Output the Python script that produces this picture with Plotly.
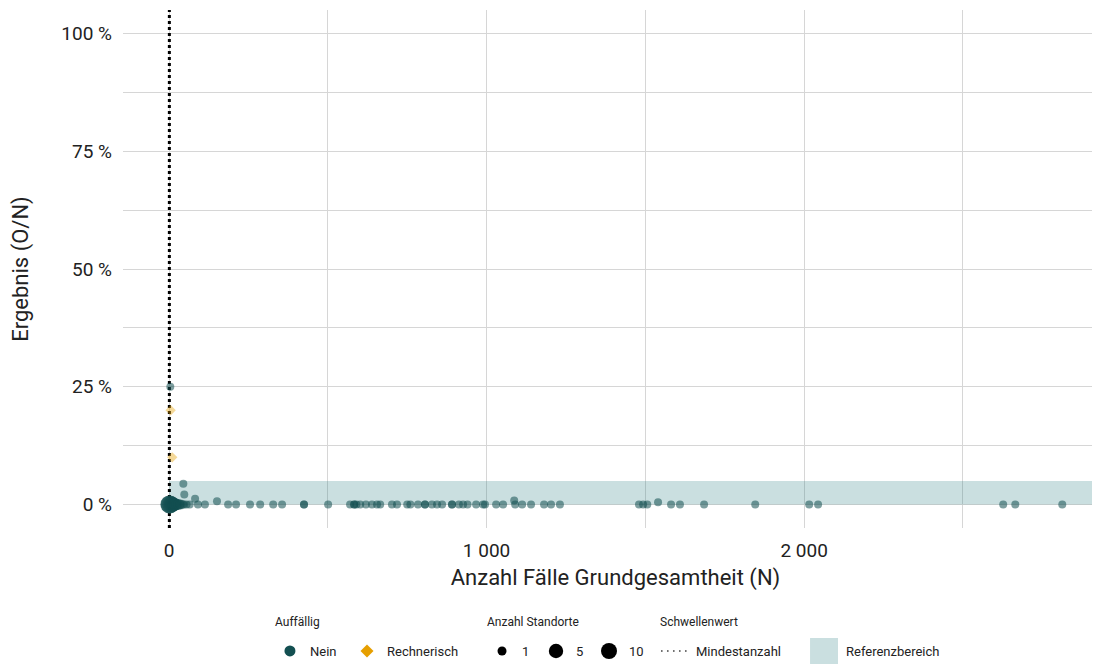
import plotly.graph_objects as go

# ---------------- data ----------------
# Auffällig = Nein
n_nein = [1, 2, 3, 5, 8, 12, 16, 20, 25, 30, 35, 40, 47, 55, 65,
          4, 45, 48, 82, 151,
          91, 113, 186, 211, 255, 287, 328, 356, 425, 425, 501, 570, 583, 583, 590,
          602, 620, 639, 655, 665, 702, 718, 750, 760, 784, 806, 806, 828, 844, 860,
          891, 891, 913, 926, 940, 967, 989, 995, 1030, 1052, 1087, 1090, 1112, 1140,
          1181, 1203, 1231, 1480, 1493, 1506, 1540, 1581, 1609, 1685, 1846, 2016, 2044,
          2627, 2665, 2813]
erg_nein = [0, 0, 0, 0, 0, 0, 0, 0, 0, 0, 0, 0, 0, 0, 0,
            0.25, 0.044, 0.021, 0.012, 0.0066,
            0, 0, 0, 0, 0, 0, 0, 0, 0, 0, 0, 0, 0, 0, 0,
            0, 0, 0, 0, 0, 0, 0, 0, 0, 0, 0, 0, 0, 0, 0,
            0, 0, 0, 0, 0, 0, 0, 0, 0, 0, 0.0083, 0, 0, 0,
            0, 0, 0, 0, 0, 0, 0.0045, 0, 0, 0, 0, 0, 0,
            0, 0, 0]
standorte_nein = [10, 10, 10, 8, 7, 6, 5, 4, 3, 3, 2, 2, 1, 1, 1,
                  1, 1, 1, 1, 1] + [1] * 60

# Auffällig = Rechnerisch
n_rech = [5, 10]
erg_rech = [0.20, 0.10]
standorte_rech = [1, 1]

# legend / threshold / reference
legend_sizes = [1, 5, 10]
mindestanzahl = 1
referenz_oben = 0.05

x_tickvals = [0, 1000, 2000]
x_ticktext = ["0", "1 000", "2 000"]
y_tickvals = [0, 0.25, 0.5, 0.75, 1.0]
y_ticktext = ["0 %", "25 %", "50 %", "75 %", "100 %"]

X_RANGE = [-145, 2957]
Y_RANGE = [-0.05, 1.05]

TEAL = "#134f51"
ORANGE = "#e69f00"
BAND = "rgba(43,127,131,0.25)"
BAND_SOLID = "#cadfe0"
FONT = "Roboto"


def dia(n):
    return (64 + 28.9 * (n - 1)) ** 0.5


fig = go.Figure()

# reference band
fig.add_trace(go.Scatter(
    x=[0, X_RANGE[1], X_RANGE[1], 0, 0],
    y=[0, 0, referenz_oben, referenz_oben, 0],
    fill="toself", mode="lines", line=dict(width=0),
    fillcolor=BAND, showlegend=False, hoverinfo="skip"))

# threshold line
fig.add_trace(go.Scatter(
    x=[mindestanzahl, mindestanzahl], y=Y_RANGE, mode="lines",
    line=dict(color="black", width=3, dash="dot"), showlegend=False))

# data points
fig.add_trace(go.Scatter(
    x=n_nein, y=erg_nein, mode="markers", showlegend=False,
    marker=dict(color=TEAL, opacity=0.55, size=[dia(s) for s in standorte_nein],
                line=dict(width=0))))
fig.add_trace(go.Scatter(
    x=n_rech, y=erg_rech, mode="markers", showlegend=False,
    marker=dict(color=ORANGE, opacity=0.4, symbol="diamond",
                size=[dia(s) for s in standorte_rech], line=dict(width=0))))

# legend entries
fig.add_trace(go.Scatter(x=[None], y=[None], mode="markers", name="Nein",
                         marker=dict(color=TEAL, size=11), legend="legend"))
fig.add_trace(go.Scatter(x=[None], y=[None], mode="markers", name="Rechnerisch",
                         marker=dict(color=ORANGE, size=10, symbol="diamond"),
                         legend="legend2"))
for i, s in enumerate(legend_sizes):
    fig.add_trace(go.Scatter(x=[None], y=[None], mode="markers", name=str(s),
                             marker=dict(color="black", size=min(dia(s) + 1, 16)),
                             legend="legend%d" % (3 + i)))
fig.add_trace(go.Scatter(x=[None], y=[None], mode="lines", name="Mindestanzahl",
                         line=dict(color="#444444", width=1.6, dash="1.6px,4.4px"),
                         legend="legend6"))
fig.add_trace(go.Scatter(x=[None], y=[None], mode="markers", name="Referenzbereich",
                         marker=dict(color="rgba(0,0,0,0)", size=1),
                         legend="legend7"))

grid = "#d6d6d6"
fig.update_layout(
    width=1100, height=664,
    margin=dict(l=115, r=0, t=2, b=144, autoexpand=False),
    plot_bgcolor="white", paper_bgcolor="white",
    font=dict(family=FONT, color="#222222"),
    xaxis=dict(range=X_RANGE, tickvals=x_tickvals, ticktext=x_ticktext,
               showgrid=True, gridcolor=grid, gridwidth=1, zeroline=False,
               showline=False, ticks="", tickfont=dict(size=19),
               ticklabelstandoff=9,
               minor=dict(tickvals=[500, 1500, 2500], showgrid=True,
                          gridcolor=grid, gridwidth=1),
               title=dict(text="Anzahl Fälle Grundgesamtheit (N)",
                          font=dict(size=22), standoff=8)),
    yaxis=dict(range=Y_RANGE, tickvals=y_tickvals, ticktext=y_ticktext,
               showgrid=True, gridcolor=grid, gridwidth=1, zeroline=False,
               showline=False, ticks="", tickfont=dict(size=19),
               ticklabelstandoff=10,
               minor=dict(tickvals=[0.125, 0.375, 0.625, 0.875], showgrid=True,
                          gridcolor=grid, gridwidth=1),
               title=dict(text="Ergebnis (O/N)", font=dict(size=22), standoff=28)),
)

ITEM_Y = -0.2375
TITLE_Y = -0.1815
leg_xs = [0.1492, 0.2274, 0.3645, 0.4193, 0.4731, 0.5411, 0.6934]
for i, lx in enumerate(leg_xs):
    key = "legend" if i == 0 else "legend%d" % (i + 1)
    fig.update_layout({key: dict(orientation="h", x=lx, y=ITEM_Y,
                                 xanchor="left", yanchor="middle",
                                 bgcolor="rgba(0,0,0,0)", font=dict(size=13),
                                 itemwidth=30, itemsizing="trace")})

for txt, tx in [("Auffällig", 0.1523), ("Anzahl Standorte", 0.3675),
                ("Schwellenwert", 0.5431)]:
    fig.add_annotation(text=txt, x=tx, y=TITLE_Y, xref="paper", yref="paper",
                       xanchor="left", yanchor="middle", showarrow=False,
                       font=dict(size=12, color="#222222"))

# legend key box for Referenzbereich
fig.add_shape(type="rect", xref="paper", yref="paper",
              x0=0.6975, x1=0.7259, y0=-0.2625, y1=-0.2124,
              fillcolor=BAND_SOLID, line=dict(width=0), layer="above")

fig.write_html("out.html")
